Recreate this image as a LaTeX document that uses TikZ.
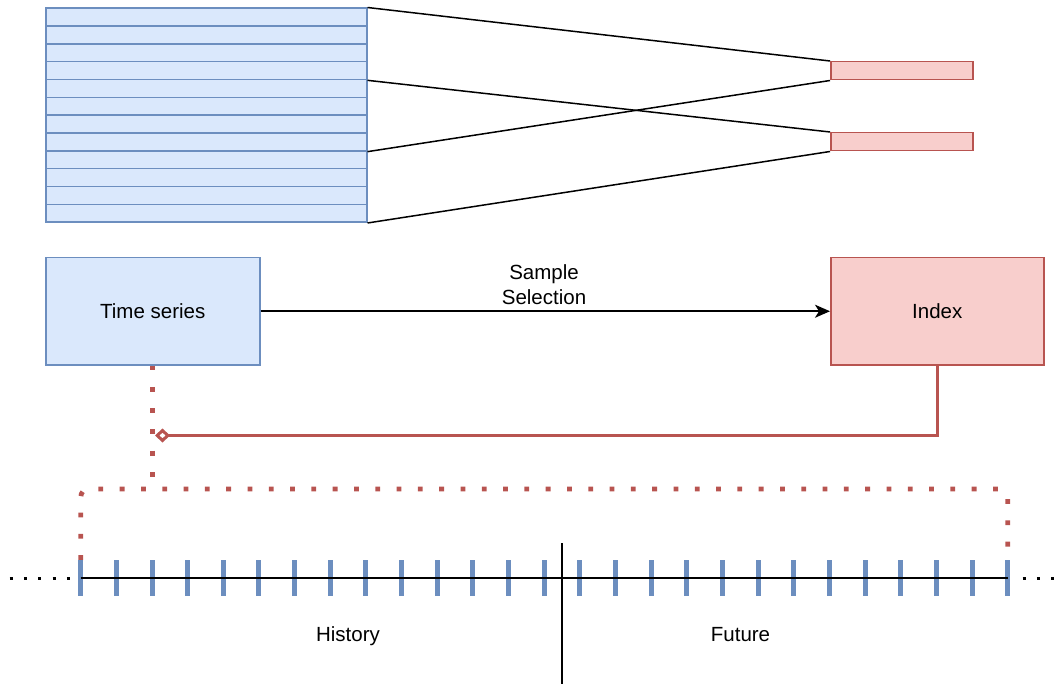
\documentclass[tikz,border=0pt]{standalone}
\usepackage{fontspec}
\setmainfont{Liberation Sans}
\usetikzlibrary{arrows.meta}
\definecolor{bluefill}{HTML}{DAE8FC}
\definecolor{bluedraw}{HTML}{6C8EBF}
\definecolor{redfill}{HTML}{F8CECC}
\definecolor{reddraw}{HTML}{B85450}

\tikzset{
  rowbox/.style={draw=bluedraw, fill=bluefill, line width=1.5pt, inner sep=0pt,
    minimum width=321pt, minimum height=17.833pt, anchor=north west},
  redbar/.style={draw=reddraw, fill=redfill, line width=1.5pt, inner sep=0pt,
    minimum width=142pt, minimum height=18pt, anchor=north west},
  bluebox/.style={draw=bluedraw, fill=bluefill, line width=1.5pt, inner sep=0pt,
    minimum width=214pt, minimum height=107pt, anchor=north west},
  redbox/.style={draw=reddraw, fill=redfill, line width=1.5pt, inner sep=0pt,
    minimum width=213pt, minimum height=107pt, anchor=north west},
  link/.style={draw=black, line width=1.5pt},
  redline/.style={draw=reddraw, line width=3pt},
  reddot/.style={draw=reddraw, line width=4.8pt, dash pattern=on 4.8pt off 16.5pt},
  blackdot/.style={draw=black, line width=3pt, dash pattern=on 3pt off 11.35pt},
  tickmark/.style={draw=bluedraw, line width=5pt},
  plain/.style={inner sep=0pt, align=center}
}

\begin{document}
\begin{tikzpicture}[x=1pt, y=-1pt, font=\fontsize{20.5}{24.5}\selectfont]
\useasboundingbox (0,0) rectangle (1062,684);

% stack of time-series rows
\foreach \i in {0,...,11}
  \node[rowbox] (r\i) at (45,{7.5+17.833*\i}) {};

% selected index entries
\node[redbar] (b1) at (830,61) {};
\node[redbar] (b2) at (830,132) {};

% fan-in lines from the stack to the index entries
\draw[link] (r0.north east) -- (b1.north west);
\draw[link] (r3.south east) -- (b2.north west);
\draw[link] (r7.south east) -- (b1.south west);
\draw[link] (r11.south east) -- (b2.south west);

% main boxes
\node[bluebox] (ts) at (45,257) {};
\node[plain] at (ts.center) {Time series};
\node[redbox] (idx) at (830,257) {};
\node[plain] at (idx.center) {Index};

\draw[link, -{Stealth[length=15pt, width=13pt, inset=4pt]}] (ts.east) -- (idx.west);
\node[plain] (lbl) at (544,284.5) {Sample\\Selection};

% index points into the time series
\coordinate (dtip) at (155,435.5);
\draw[redline, -{Diamond[open, length=15pt, width=14pt]}] (idx.south) |- (dtip);

% dotted bracket over the window
\coordinate (bl) at (80.7,560);
\coordinate (tl) at (80.7,489);
\coordinate (tr) at (1007.7,489);
\coordinate (br) at (1007.7,560);
\draw[reddot] (ts.south) -- (ts.south |- tl);
\draw[reddot, rounded corners=8pt] (bl) -- (tl) -- (tr) -- (br);

% time axis with sample ticks
\coordinate (t0) at (80.7,578);
\coordinate (t1) at (1007.7,578);
\coordinate (d0) at (9.5,578);
\coordinate (e0) at (1022.5,578);
\coordinate (d1) at (1058,578);
\foreach \k in {0,...,26}
  \draw[tickmark] ({80.7+35.654*\k},560) -- ++(0,36);
\draw[blackdot] (d0) -- (t0);
\draw[blackdot] (e0) -- (d1);
\draw[link] (t0) -- (t1);

% split between history and future
\coordinate (v0) at (562,543);
\coordinate (v1) at (562,684);
\draw[link] (v0) -- (v1);

\node[plain, anchor=base] (hist) at (348,641) {History};
\node[plain, anchor=base] (fut) at (740.5,641) {Future};
\end{tikzpicture}
\end{document}
